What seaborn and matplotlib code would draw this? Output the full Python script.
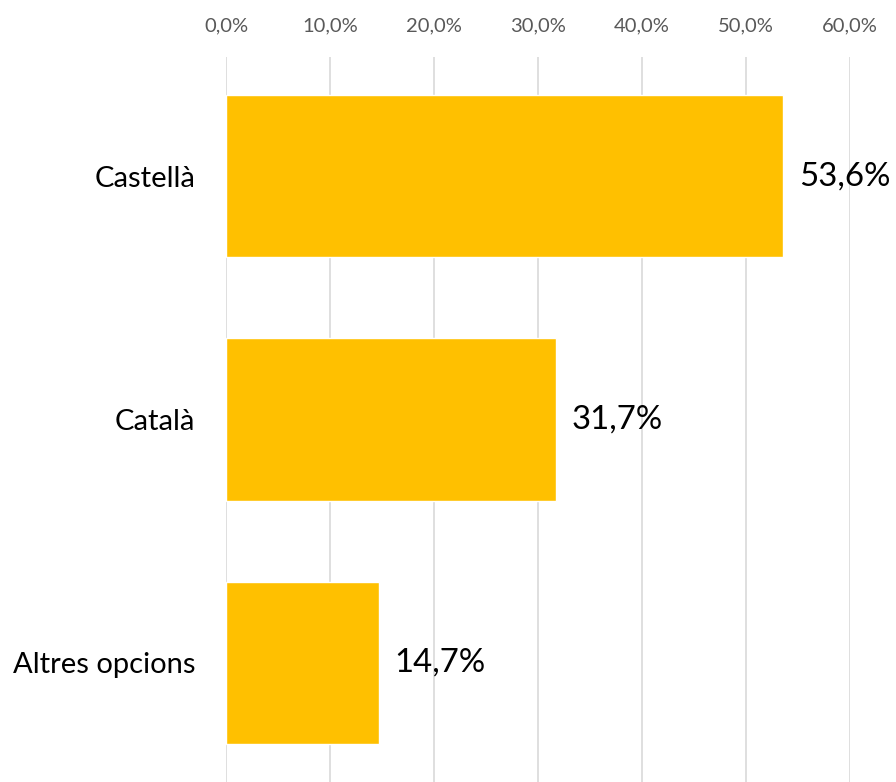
import matplotlib
matplotlib.use("Agg")
import matplotlib.pyplot as plt
import seaborn as sns
import pandas as pd
from matplotlib.ticker import FuncFormatter

categories = ["Castellà", "Català", "Altres opcions"]
values = [53.6, 31.7, 14.7]
labels = ["53,6%", "31,7%", "14,7%"]
xticks = [0, 10, 20, 30, 40, 50, 60]

sns.set_theme(style="white")
plt.rcParams['font.family'] = ['Lato', 'DejaVu Sans']

df = pd.DataFrame({"cat": categories, "val": values})
fig = plt.figure(figsize=(8.96, 7.82), dpi=100)
ax = fig.add_axes([226/896, 0.0, (850-226)/896, (782-57)/782])
sns.barplot(data=df, x="val", y="cat", color="#FFC000", saturation=1, width=0.667, ax=ax, zorder=3)
ax.set_xlim(0, 60)
ax.set_ylim(2.49, -0.49)
ax.set_xticks(xticks)
ax.xaxis.set_major_formatter(FuncFormatter(lambda v, p: f"{v:.1f}%".replace(".", ",")))
ax.xaxis.tick_top()
ax.tick_params(axis="x", colors="#595959", labelsize=14.5, length=0, pad=16)
ax.tick_params(axis="y", labelsize=21, colors="black", length=0, pad=22)
ax.grid(axis="x", color="#D9D9D9", linewidth=1.2, zorder=0)
ax.set_xlabel("")
ax.set_ylabel("")
for s in ax.spines.values():
    s.set_visible(False)
for i, (v, lab) in enumerate(zip(values, labels)):
    ax.text(v + 1.5, i, lab, va="center", ha="left", fontsize=23.8, color="black")
fig.savefig("out.png", dpi=100)
